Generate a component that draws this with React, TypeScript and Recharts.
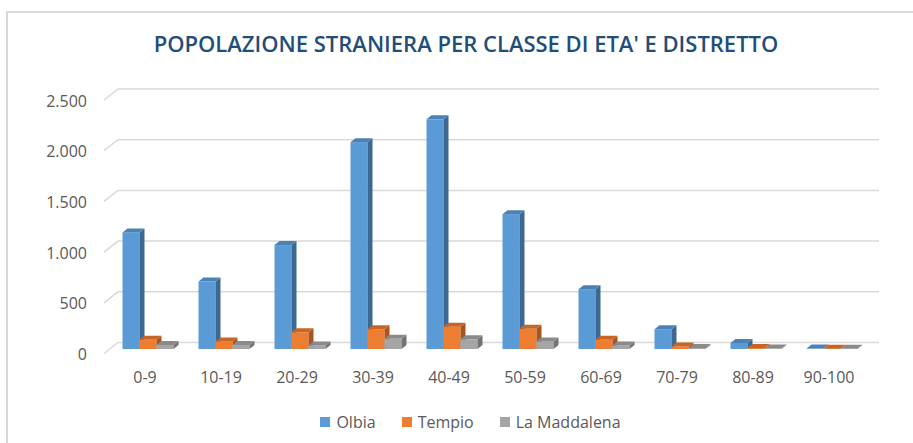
import React from 'react';
import { Bar, BarChart, CartesianGrid, Legend, XAxis, YAxis } from 'recharts';

const classes = ['0-9', '10-19', '20-29', '30-39', '40-49', '50-59', '60-69', '70-79', '80-89', '90-100'];
const olbia = [1150, 665, 1025, 2040, 2265, 1330, 590, 195, 60, 4];
const tempio = [90, 75, 165, 195, 220, 200, 90, 25, 10, 3];
const maddalena = [40, 40, 35, 100, 95, 75, 35, 10, 5, 2];
const yTicks = [0, 500, 1000, 1500, 2000, 2500];

const series = [
  { key: 'olbia', name: 'Olbia', front: '#5B9BD5', side: '#3D6892', top: '#4A82B8' },
  { key: 'tempio', name: 'Tempio', front: '#ED7D31', side: '#A9561E', top: '#C96523' },
  { key: 'maddalena', name: 'La Maddalena', front: '#A5A5A5', side: '#737373', top: '#8A8A8A' },
];

const data = classes.map((c, i) => ({
  classe: c,
  olbia: olbia[i],
  tempio: tempio[i],
  maddalena: maddalena[i],
}));

const DX = 5;
const DY = 4;
const FONT = '"Open Sans", sans-serif';

const fmt = (v: number) => String(v).replace(/\B(?=(\d{3})+(?!\d))/g, '.');

function Box3D(props: any) {
  const { x, y, width: w, height: h, front, side, top } = props;
  if (x == null || y == null) return null;
  return (
    <g>
      <rect x={x} y={y} width={w} height={Math.max(h, 0)} fill={front} />
      <polygon
        points={`${x + w},${y} ${x + w + DX},${y - DY} ${x + w + DX},${y + h - DY} ${x + w},${y + h}`}
        fill={side}
      />
      <polygon points={`${x},${y} ${x + DX},${y - DY} ${x + w + DX},${y - DY} ${x + w},${y}`} fill={top} />
    </g>
  );
}

function GridLine(props: any) {
  const { x1, x2, y1 } = props;
  return (
    <path
      key={props.key ?? y1}
      d={`M${x1 - 5.5},${y1 + 4.5} L${x1 + 8.5},${y1 - 6.5} L${x2 + 9.5},${y1 - 6.5}`}
      stroke="#D9D9D9"
      strokeWidth={1.5}
      fill="none"
    />
  );
}

function YTick({ y, payload }: any) {
  return (
    <text x={87} y={y + 5} textAnchor="end" dominantBaseline="central" fill="#595959" fontSize={16} fontFamily={FONT}>
      {fmt(payload.value)}
    </text>
  );
}

function XTick({ x, y, payload }: any) {
  return (
    <text x={x - 2.5} y={y + 20} textAnchor="middle" dominantBaseline="central" fill="#595959" fontSize={16} fontFamily={FONT}>
      {payload.value}
    </text>
  );
}

function LegendBox() {
  return (
    <div
      style={{
        display: 'flex',
        justifyContent: 'center',
        alignItems: 'center',
        height: 24,
        paddingLeft: 28,
        fontFamily: FONT,
        fontSize: 16,
        color: '#595959',
      }}
    >
      {series.map((s) => (
        <span key={s.key} style={{ display: 'flex', alignItems: 'center', margin: '0 13px' }}>
          <span style={{ width: 10, height: 10, background: s.front, marginRight: 6 }} />
          {s.name}
        </span>
      ))}
    </div>
  );
}

export default function App() {
  return (
    <div style={{ position: 'absolute', left: 0, top: 0, width: 913, height: 443, overflow: 'hidden', background: '#fff' }}>
      <div style={{ position: 'absolute', left: 6, top: 11, width: 940, height: 470, border: '2px solid #D9D9D9' }} />
      <div
        style={{
          position: 'absolute',
          left: 0,
          top: 28,
          width: 932,
          textAlign: 'center',
          fontFamily: FONT,
          fontWeight: 600,
          fontSize: 22,
          color: '#1F4E79',
        }}
      >
        POPOLAZIONE STRANIERA PER CLASSE DI ETA' E DISTRETTO
      </div>
      <div style={{ position: 'absolute', left: 0, top: 0 }}>
        <BarChart
          width={913}
          height={443}
          data={data}
          margin={{ top: 95.5, right: 43.5, left: 49.5, bottom: 40 }}
          barSize={17}
          barGap={0}
        >
          <CartesianGrid vertical={false} horizontal={GridLine} />
          <XAxis dataKey="classe" axisLine={false} tickLine={false} height={30} tick={XTick} interval={0} />
          <YAxis width={60} domain={[0, 2500]} ticks={yTicks} axisLine={false} tickLine={false} tick={YTick} />
          <Legend
            verticalAlign="bottom"
            content={LegendBox}
            wrapperStyle={{ position: 'absolute', left: 0, top: 410, width: 913 }}
          />
          {series.map((s) => (
            <Bar
              key={s.key}
              dataKey={s.key}
              name={s.name}
              fill={s.front}
              isAnimationActive={false}
              shape={(p: any) => <Box3D {...p} front={s.front} side={s.side} top={s.top} />}
            />
          ))}
        </BarChart>
      </div>
    </div>
  );
}
